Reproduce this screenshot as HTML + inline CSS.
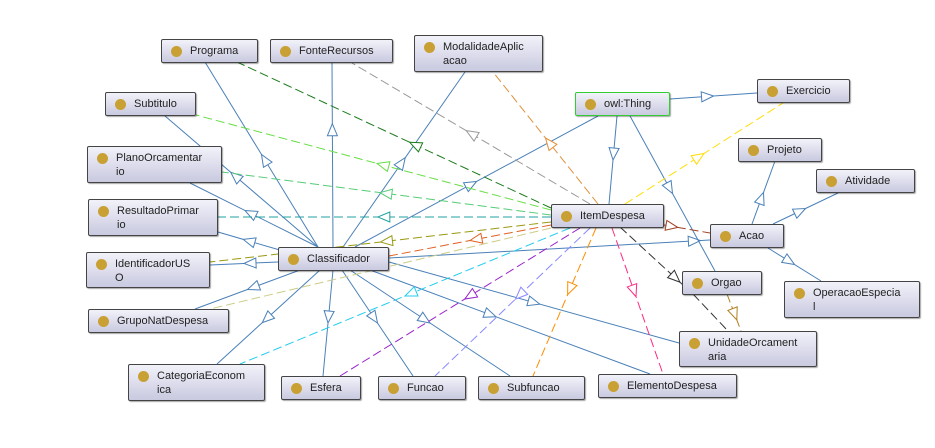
<!DOCTYPE html>
<html><head><meta charset="utf-8"><style>
html,body{margin:0;padding:0;background:#fff;}
#w{position:relative;width:935px;height:448px;overflow:hidden;background:#fff;}
svg{position:absolute;left:0;top:0;}
.n{position:absolute;box-sizing:border-box;border:1px solid #444;border-radius:2px;background:linear-gradient(#f2f2fa,#c9c9e0);box-shadow:1px 1px 1px rgba(0,0,0,.35);font-family:"Liberation Sans",sans-serif;font-size:11px;color:#222;line-height:14px;padding:4px 4px 0 28px;}
.n:before{content:"";position:absolute;left:9px;top:6px;width:11px;height:11px;border-radius:50%;background:#c9a033;}
.g{border:1px solid #3c3;}
</style></head><body><div id="w">
<svg id="s" width="935" height="448"></svg>
<div class="n" style="left:161px;top:39px;width:97px;height:24px">Programa</div>
<div class="n" style="left:270px;top:39px;width:123px;height:24px">FonteRecursos</div>
<div class="n" style="left:414px;top:35px;width:129px;height:37px">ModalidadeAplic<br>acao</div>
<div class="n" style="left:105px;top:92px;width:91px;height:24px">Subtitulo</div>
<div class="n" style="left:87px;top:146px;width:135px;height:37px">PlanoOrcamentar<br>io</div>
<div class="n" style="left:88px;top:199px;width:130px;height:37px">ResultadoPrimar<br>io</div>
<div class="n" style="left:86px;top:252px;width:124px;height:36px">IdentificadorUS<br>O</div>
<div class="n" style="left:88px;top:309px;width:141px;height:24px">GrupoNatDespesa</div>
<div class="n" style="left:128px;top:364px;width:137px;height:37px">CategoriaEconom<br>ica</div>
<div class="n" style="left:281px;top:376px;width:80px;height:24px">Esfera</div>
<div class="n" style="left:378px;top:376px;width:88px;height:24px">Funcao</div>
<div class="n" style="left:478px;top:376px;width:107px;height:24px">Subfuncao</div>
<div class="n" style="left:598px;top:374px;width:139px;height:24px">ElementoDespesa</div>
<div class="n" style="left:278px;top:247px;width:111px;height:24px">Classificador</div>
<div class="n" style="left:551px;top:204px;width:113px;height:24px">ItemDespesa</div>
<div class="n g" style="left:575px;top:92px;width:95px;height:24px">owl:Thing</div>
<div class="n" style="left:757px;top:79px;width:93px;height:24px">Exercicio</div>
<div class="n" style="left:738px;top:138px;width:84px;height:24px">Projeto</div>
<div class="n" style="left:816px;top:169px;width:99px;height:24px">Atividade</div>
<div class="n" style="left:710px;top:224px;width:74px;height:24px">Acao</div>
<div class="n" style="left:682px;top:271px;width:80px;height:24px">Orgao</div>
<div class="n" style="left:784px;top:281px;width:136px;height:37px">OperacaoEspecia<br>l</div>
<div class="n" style="left:679px;top:331px;width:138px;height:36px">UnidadeOrcament<br>aria</div>
</div>
<script>
var B="#4a80b8";
var E=[
[318,247,205,62,B,0,.5],[333,247,332,63,B,0,.67],[343,247,465,72,B,0,.51],
[318,247,165,116,B,0,.57],[318,247,190,183,B,0,.57],[290,253,218,232,B,0,.65],
[278,262,210,265,B,0,.5],[300,270,195,309,B,0,.5],[320,270,217,364,B,0,.56],
[333,270,323,376,B,0,.5],[342,270,413,376,B,0,.5],[350,270,510,376,B,0,.5],
[389,262,679,343,B,0,.52],[370,270,650,374,B,0,.45],[389,258,710,240,B,0,.97],
[355,247,598,116,B,0,.5],[617,116,609,204,B,0,.5],[670,99,757,93,B,0,.5],
[630,116,715,271,B,0,.5],[752,224,775,161,B,0,.5],[773,224,838,193,B,0,.5],
[768,248,821,281,B,0,.5],
[551,208,237,62,"#1a7a1a",1,.45],[590,204,352,63,"#999",1,.52],[598,204,493,72,"#e0903a",1,.5],
[551,210,196,115,"#66dd44",1,.49],[551,215,222,172,"#55cc77",1,.52],[551,217,218,217,"#20a0a0",1,.52],
[551,222,210,262,"#999911",1,.5],[551,225,389,256,"#e06020",1,.5],[551,228,210,309,"#cccc88",1,-1],
[570,228,240,364,"#22ccee",1,.5],[580,228,340,376,"#9922cc",1,.48],[590,228,435,376,"#8888ff",1,.48],
[596,228,533,376,"#ff8c00",1,.45],[612,228,663,374,"#ff2a80",1,.47],[620,227,683,285,"#333",1,.95],
[664,225,710,233,"#a04020",1,.3],[625,204,783,103,"#ffdd00",1,.5],
[693,294,728,331,"#333",1,-1],[727,294,741,331,"#b08020",1,.7]];
var h="";
E.forEach(function(e){
var x1=e[0],y1=e[1],x2=e[2],y2=e[3],c=e[4],d=e[5],t=e[6];
h+='<line x1="'+x1+'" y1="'+y1+'" x2="'+x2+'" y2="'+y2+'" stroke="'+c+'" stroke-width="1"'+(d?' stroke-dasharray="9,4"':'')+'/>';
if(t>=0){var dx=x2-x1,dy=y2-y1,L=Math.sqrt(dx*dx+dy*dy),ux=dx/L,uy=dy/L;
var tx=x1+dx*t,ty=y1+dy*t,bx=tx-ux*12,by=ty-uy*12;
h+='<polygon points="'+tx+','+ty+' '+(bx-uy*5)+','+(by+ux*5)+' '+(bx+uy*5)+','+(by-ux*5)+'" fill="#fff" stroke="'+c+'"/>';}
});
document.getElementById("s").innerHTML=h;
</script>
</body></html>
